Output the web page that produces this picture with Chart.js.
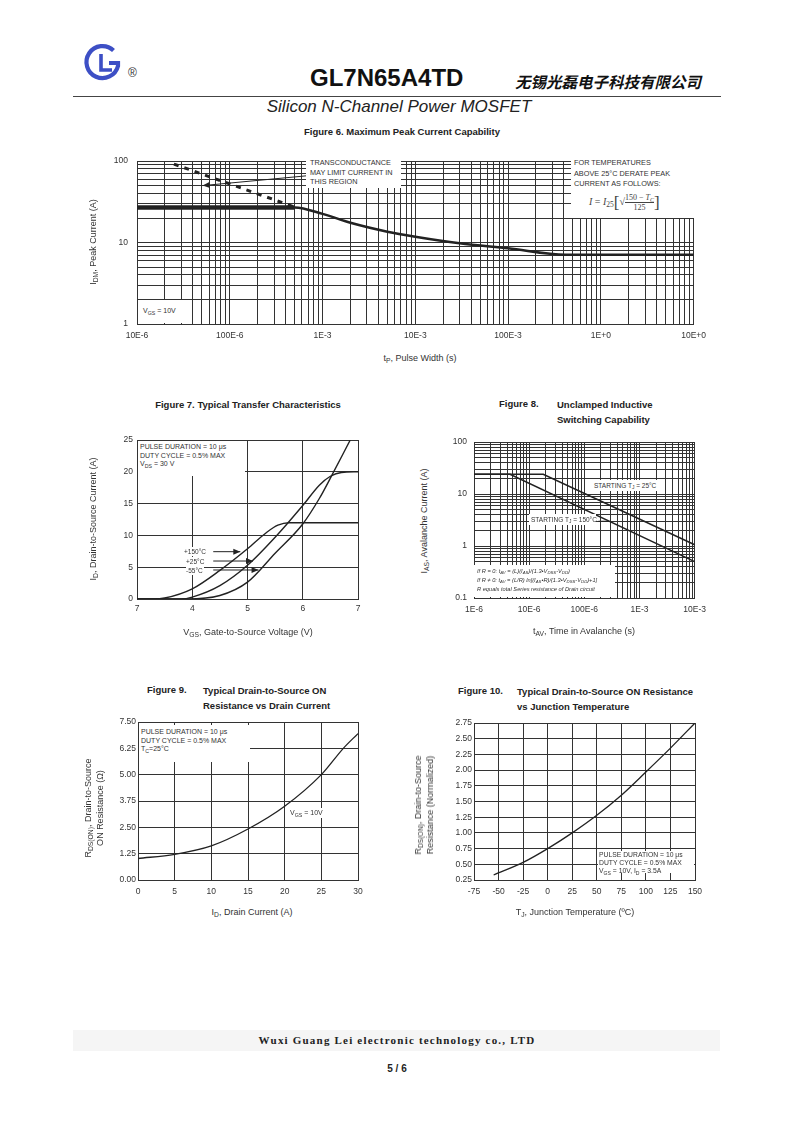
<!DOCTYPE html>
<html>
<head>
<meta charset="utf-8">
<script src="https://cdn.jsdelivr.net/npm/chart.js@4.4.0/dist/chart.umd.min.js"></script>
<style>
body{margin:0;background:#fff;}
#page{position:relative;width:793px;height:1122px;overflow:hidden;font-family:"Liberation Sans",Arial,sans-serif;color:#222;}
.a{position:absolute;white-space:nowrap;}
.ct{transform:translate(-50%,-50%);}
.yt{position:absolute;white-space:nowrap;transform:translate(-50%,-50%) rotate(-90deg);text-align:center;font-size:9px;line-height:12px;color:#333;}
.xt{font-size:9px;color:#333;}
.ft{font-weight:bold;font-size:9.5px;color:#222;}
.mask{position:absolute;background:#fff;white-space:nowrap;color:#333;}
canvas{position:absolute;}
sub{font-size:75%;vertical-align:-0.3em;line-height:0;}
.frac{display:inline-block;vertical-align:middle;text-align:center;font-size:8px;line-height:9px;}
.frac span{display:block;}
</style>
</head>
<body>
<div id="page">
  <!-- header -->
  <svg class="a" style="left:0;top:0" width="160" height="100">
    <path d="M113.5 50.5 A16 16 0 1 0 118 66 L118 63 L109 63" fill="none" stroke="#3d4fc5" stroke-width="4.2"/>
    <path d="M101 54 L101 70 L112 70" fill="none" stroke="#3d4fc5" stroke-width="3.6"/>
  </svg>
  <div class="a" style="left:128px;top:66px;font-size:12px;color:#333">®</div>
  <div class="a" style="left:310px;top:64px;font-size:24px;font-weight:bold;color:#111">GL7N65A4TD</div>
  <div class="a" style="left:515px;top:70px;font-size:15.5px;font-weight:bold;font-style:italic;font-family:'Noto Sans CJK SC';color:#111">无锡光磊电子科技有限公司</div>
  <div class="a" style="left:73px;top:96px;width:648px;height:1px;background:#444"></div>
  <div class="a ct" style="left:399px;top:107px;font-size:17px;font-style:italic;color:#222">Silicon N-Channel Power MOSFET</div>

  <!-- figure titles -->
  <div class="a ct ft" style="left:402px;top:131px">Figure 6. Maximum Peak Current Capability</div>
  <div class="a ct ft" style="left:248px;top:404px">Figure 7. Typical Transfer Characteristics</div>
  <div class="a ft" style="left:499px;top:398px">Figure 8.</div>
  <div class="a ft" style="left:557px;top:398px;line-height:14.5px">Unclamped Inductive<br>Switching Capability</div>
  <div class="a ft" style="left:147px;top:684px">Figure 9.</div>
  <div class="a ft" style="left:203px;top:684px;line-height:14.5px">Typical Drain-to-Source ON<br>Resistance vs Drain Current</div>
  <div class="a ft" style="left:458px;top:685px">Figure 10.</div>
  <div class="a ft" style="left:517px;top:685px;line-height:14.5px">Typical Drain-to-Source ON Resistance<br>vs Junction Temperature</div>

  <canvas id="c6"></canvas>
  <canvas id="c7"></canvas>
  <canvas id="c8"></canvas>
  <canvas id="c9"></canvas>
  <canvas id="c10"></canvas>

  <!-- figure 6 notes -->
  <div class="mask" style="left:306px;top:158px;width:95px;height:30px;font-size:7.3px;line-height:9.5px;padding-left:4px;box-sizing:border-box">TRANSCONDUCTANCE<br>MAY LIMIT CURRENT IN<br>THIS REGION</div>
  <div class="mask" style="left:571px;top:158px;width:123px;height:60px;font-size:7.3px;line-height:10.5px;padding-left:3px;box-sizing:border-box">FOR TEMPERATURES<br>ABOVE 25°C DERATE PEAK<br>CURRENT AS FOLLOWS:
    <div style="position:absolute;left:18px;top:35px;font-family:'Liberation Serif';font-size:10px;color:#444;line-height:18px"><i>I</i> = <i>I</i><sub>25</sub><span style="font-size:17px;vertical-align:middle">[</span>√<span class="frac"><span style="border-bottom:1px solid #444">150 − <i>T<sub>C</sub></i></span><span>125</span></span><span style="font-size:17px;vertical-align:middle">]</span></div>
  </div>
  <div class="mask" style="left:138px;top:300px;width:52px;height:23px;font-size:7px;line-height:22px;padding-left:5px;box-sizing:border-box">V<sub>GS</sub> = 10V</div>

  <!-- figure 7 notes -->
  <div class="mask" style="left:138px;top:441px;width:107px;height:35px;font-size:7px;line-height:8.6px;padding:2px 0 0 2px;box-sizing:border-box">PULSE DURATION = 10 μs<br>DUTY CYCLE = 0.5% MAX<br>V<sub>DS</sub> = 30 V</div>
  <div class="mask" style="left:184px;top:547px;font-size:6.5px;line-height:9px;padding-right:1px">+150°C</div>
  <div class="mask" style="left:186px;top:556.5px;font-size:6.5px;line-height:9px;padding-right:1px">+25°C</div>
  <div class="mask" style="left:186px;top:565.5px;font-size:6.5px;line-height:9px;padding-right:1px">-55°C</div>

  <!-- figure 8 notes -->
  <div class="mask" style="left:592px;top:480px;width:66px;height:11px;font-size:6.5px;line-height:11px;padding-left:2px;box-sizing:border-box">STARTING T<sub>J</sub> = 25°C</div>
  <div class="mask" style="left:529px;top:514px;width:67px;height:11px;font-size:6.5px;line-height:11px;padding-left:2px;box-sizing:border-box">STARTING T<sub>J</sub> = 150°C</div>
  <div class="mask" style="left:474px;top:565px;width:141px;height:32px;font-size:5.7px;line-height:8.8px;font-style:italic;padding:2px 0 0 3px;box-sizing:border-box">If R = 0: t<sub>AV</sub> = (L)(I<sub>AS</sub>)/(1.3•V<sub>DSS</sub>-V<sub>DD</sub>)<br>If R ≠ 0: t<sub>AV</sub> = (L/R) ln[(I<sub>AS</sub>•R)/(1.3•V<sub>DSS</sub>-V<sub>DD</sub>)+1]<br>R equals total Series resistance of Drain circuit</div>

  <!-- figure 9 notes -->
  <div class="mask" style="left:139px;top:725px;width:111px;height:37px;font-size:7px;line-height:8.7px;padding:3px 0 0 2px;box-sizing:border-box">PULSE DURATION = 10 μs<br>DUTY CYCLE = 0.5% MAX<br>T<sub>C</sub>=25°C</div>
  <div class="mask" style="left:290px;top:808px;font-size:7px;line-height:10px">V<sub>GS</sub> = 10V</div>

  <!-- figure 10 notes -->
  <div class="mask" style="left:598px;top:851px;width:96px;height:22px;font-size:6.8px;line-height:7.8px;padding:0 0 0 1px;box-sizing:border-box">PULSE DURATION = 10 μs<br>DUTY CYCLE = 0.5% MAX<br>V<sub>GS</sub> = 10V, I<sub>D</sub> = 3.5A</div>

  <!-- axis titles -->
  <div class="a ct xt" style="left:420px;top:358px">t<sub>P</sub>, Pulse Width (s)</div>
  <div class="yt" style="left:93px;top:242px">I<sub>DM</sub>, Peak Current (A)</div>
  <div class="a ct xt" style="left:248px;top:632px">V<sub>GS</sub>, Gate-to-Source Voltage (V)</div>
  <div class="yt" style="left:93px;top:519px">I<sub>D</sub>, Drain-to-Source Current (A)</div>
  <div class="a ct xt" style="left:584px;top:631px">t<sub>AV</sub>, Time in Avalanche (s)</div>
  <div class="yt" style="left:424px;top:521px">I<sub>AS</sub>, Avalanche Current (A)</div>
  <div class="a ct xt" style="left:252px;top:912px">I<sub>D</sub>, Drain Current (A)</div>
  <div class="yt" style="left:94px;top:808px">R<sub>DS(ON)</sub>, Drain-to-Source<br>ON Resistance (Ω)</div>
  <div class="a ct xt" style="left:575px;top:912px">T<sub>J</sub>, Junction Temperature (ºC)</div>
  <div class="yt" style="left:424px;top:805px">R<sub>DS(ON)</sub>, Drain-to-Source<br>Resistance (Normalized)</div>

  <!-- footer -->
  <div class="a" style="left:73px;top:1030px;width:647px;height:21px;background:#f5f5f5"></div>
  <div class="a ct" style="left:397px;top:1040px;font-family:'Liberation Serif';font-weight:bold;font-size:11px;letter-spacing:1.2px;color:#222">Wuxi Guang Lei electronic technology co., LTD</div>
  <div class="a ct" style="left:397px;top:1068px;font-weight:bold;font-size:10px;color:#222">5 / 6</div>
</div>

<script>
// Figure 6: max peak current vs pulse width
const fig6Pulse = [1e-5, 5e-4, 1e-3, 2e-3, 5e-3, 1e-2, 3e-2, 1e-1, 4.2e-1, 10];
const fig6Current = [27, 27, 22.5, 17.5, 13.6, 11.8, 9.8, 8.5, 7.1, 7.1];
const fig6LimitPulse = [2.5e-5, 4.9e-4];
const fig6LimitCurrent = [92, 27.5];
const fig6XLabels = ['10E-6', '100E-6', '1E-3', '10E-3', '100E-3', '1E+0', '10E+0'];
const fig6YLabels = ['1', '10', '100'];

// Figure 7: transfer characteristics
const fig7Vgs150 = [3, 3.3, 3.5, 4, 4.5, 5, 5.35, 5.55, 5.75, 7];
const fig7Id150 = [0, 0, 0.15, 1.6, 4.5, 7.9, 10.5, 11.6, 12, 12];
const fig7Vgs25 = [3, 3.8, 4, 4.5, 5, 5.5, 6, 6.3, 6.5, 6.7, 7];
const fig7Id25 = [0, 0, 0.3, 2.1, 5.3, 9.7, 14.7, 17.9, 19.3, 19.9, 20];
const fig7VgsM55 = [3, 3.9, 4.5, 5, 5.5, 6, 6.3, 6.5, 6.86];
const fig7IdM55 = [0, 0, 0.55, 2.65, 7.2, 11.8, 15.8, 19.0, 25];
const fig7XLabels = ['7', '4', '5', '6', '7'];

// Figure 8: unclamped inductive switching
const fig8Time25 = [1e-6, 1.8e-5, 1e-2];
const fig8Amp25 = [24, 24, 1.06];
const fig8Time150 = [1e-6, 4.5e-6, 1e-2];
const fig8Amp150 = [24, 24, 0.5];
const fig8XLabels = ['1E-6', '10E-6', '100E-6', '1E-3', '10E-3'];
const fig8YLabels = ['0.1', '1', '10', '100'];

// Figure 9: Rds(on) vs drain current
const fig9Id = [0, 5, 10, 15, 20, 25, 28, 30];
const fig9Rds = [1.02, 1.22, 1.62, 2.42, 3.5, 5.0, 6.25, 6.95];

// Figure 10: normalized Rds(on) vs junction temperature
const fig10Tj = [-55, -25, 0, 25, 50, 75, 100, 125, 150];
const fig10Rds = [0.33, 0.53, 0.75, 1.0, 1.28, 1.6, 1.97, 2.35, 2.75];

const INK = '#222';
const GRID = '#333';
const M = {l: 40, r: 18, t: 10, b: 26};
const tickFont = {family: 'Liberation Sans', size: 8.5};

function pts(xs, ys) {
	return xs.map((x, i) => ({x: x, y: ys[i]}));
}

function mount(id, area) {
	const c = document.getElementById(id);
	const w = area.r - area.l + M.l + M.r;
	const h = area.b - area.t + M.t + M.b;
	c.width = w;
	c.height = h;
	c.style.width = w + 'px';
	c.style.height = h + 'px';
	c.style.left = (area.l - M.l) + 'px';
	c.style.top = (area.t - M.t) + 'px';
	return c;
}

function logTicks(minExp, maxExp) {
	const t = [];
	for (let e = minExp; e < maxExp; e++) {
		for (let m = 1; m < 10; m++) t.push({value: m * Math.pow(10, e)});
	}
	t.push({value: Math.pow(10, maxExp)});
	return t;
}

function decadeLabel(labels, minExp) {
	return (v) => {
		const lg = Math.log10(v);
		const e = Math.round(lg);
		return Math.abs(lg - e) < 1e-6 ? labels[e - minExp] : '';
	};
}

function line(data, width, extra) {
	return Object.assign({
		data: data,
		borderColor: INK,
		borderWidth: width,
		pointRadius: 0,
		fill: false,
	}, extra || {});
}

function axis(kind, opts, pad) {
	const horiz = kind === 'x';
	return Object.assign({
		grid: {color: GRID, lineWidth: 1, drawTicks: false},
		border: {color: GRID, width: 1},
		ticks: Object.assign({font: tickFont, color: '#333', padding: pad, autoSkip: false, maxRotation: 0}, opts.ticks || {}),
		afterFit: (s) => { if (horiz) s.height = M.b; else s.width = M.l; },
	}, opts.scale);
}

// arrows and leader lines drawn in data coordinates
const arrowPlugin = {
	id: 'arrows',
	afterDatasetsDraw(chart, args, opts) {
		const ctx = chart.ctx;
		const xs = chart.scales.x, ys = chart.scales.y;
		(opts.items || []).forEach((a) => {
			const x1 = xs.getPixelForValue(a.from[0]), y1 = ys.getPixelForValue(a.from[1]);
			const x2 = xs.getPixelForValue(a.to[0]), y2 = ys.getPixelForValue(a.to[1]);
			ctx.save();
			ctx.strokeStyle = INK;
			ctx.fillStyle = INK;
			ctx.lineWidth = 1;
			ctx.beginPath();
			ctx.moveTo(x1, y1);
			ctx.lineTo(x2, y2);
			ctx.stroke();
			if (a.head) {
				const ang = Math.atan2(y2 - y1, x2 - x1);
				const L = 7, W = 3;
				ctx.beginPath();
				ctx.moveTo(x2, y2);
				ctx.lineTo(x2 - L * Math.cos(ang) + W * Math.sin(ang), y2 - L * Math.sin(ang) - W * Math.cos(ang));
				ctx.lineTo(x2 - L * Math.cos(ang) - W * Math.sin(ang), y2 - L * Math.sin(ang) + W * Math.cos(ang));
				ctx.closePath();
				ctx.fill();
			}
			ctx.restore();
		});
	},
};

function make(id, area, datasets, xAxis, yAxis, arrows) {
	return new Chart(mount(id, area), {
		type: 'line',
		data: {datasets: datasets},
		plugins: [arrowPlugin],
		options: {
			responsive: false,
			animation: false,
			layout: {padding: {top: M.t, right: M.r, left: 0, bottom: 0}},
			plugins: {legend: {display: false}, tooltip: {enabled: false}, arrows: {items: arrows || []}},
			scales: {x: xAxis, y: yAxis},
		},
	});
}

// Figure 6
make('c6', {l: 137, r: 695, t: 157, b: 324}, [
	line(pts(fig6Pulse, fig6Current), 2.5, {cubicInterpolationMode: 'monotone'}),
	line(pts(fig6Pulse.slice(0, 2), fig6Current.slice(0, 2)), 4.5),
	line(pts(fig6LimitPulse, fig6LimitCurrent), 3, {borderDash: [5, 6]}),
],
axis('x', {scale: {type: 'logarithmic', min: 1e-5, max: 10, afterBuildTicks: (s) => { s.ticks = logTicks(-5, 1); }},
	ticks: {callback: decadeLabel(fig6XLabels, -5)}}, 7),
axis('y', {scale: {type: 'logarithmic', min: 1, max: 100, afterBuildTicks: (s) => { s.ticks = logTicks(0, 2); }},
	ticks: {callback: decadeLabel(fig6YLabels, 0)}}, 9),
[{from: [7.25e-4, 66.5], to: [5.1e-5, 50], head: true}]);

// Figure 7
make('c7', {l: 137, r: 358, t: 440, b: 599}, [
	line(pts(fig7Vgs150, fig7Id150), 1.4, {cubicInterpolationMode: 'monotone'}),
	line(pts(fig7Vgs25, fig7Id25), 1.4, {cubicInterpolationMode: 'monotone'}),
	line(pts(fig7VgsM55, fig7IdM55), 1.4, {cubicInterpolationMode: 'monotone'}),
],
axis('x', {scale: {type: 'linear', min: 3, max: 7}, ticks: {stepSize: 1, callback: (v, i) => fig7XLabels[i]}}, 5),
axis('y', {scale: {type: 'linear', min: 0, max: 25}, ticks: {stepSize: 5}}, 4),
[
	{from: [4.38, 7.44], to: [4.87, 7.44], head: true},
	{from: [4.38, 5.97], to: [5.1, 5.97], head: true},
	{from: [4.38, 4.56], to: [5.2, 4.56], head: true},
]);

// Figure 8
make('c8', {l: 474, r: 695, t: 440, b: 598}, [
	line(pts(fig8Time25, fig8Amp25), 1.5),
	line(pts(fig8Time150, fig8Amp150), 1.5),
],
axis('x', {scale: {type: 'logarithmic', min: 1e-6, max: 1e-2, afterBuildTicks: (s) => { s.ticks = logTicks(-6, -2); }},
	ticks: {callback: decadeLabel(fig8XLabels, -6)}}, 7),
axis('y', {scale: {type: 'logarithmic', min: 0.1, max: 100, afterBuildTicks: (s) => { s.ticks = logTicks(-1, 2); }},
	ticks: {callback: decadeLabel(fig8YLabels, -1)}}, 7),
[{from: [1.8e-4, 3.0], to: [2.8e-4, 3.0], head: false}]);

// Figure 9
make('c9', {l: 138, r: 358, t: 722, b: 880}, [
	line(pts(fig9Id, fig9Rds), 1.3, {cubicInterpolationMode: 'monotone'}),
],
axis('x', {scale: {type: 'linear', min: 0, max: 30}, ticks: {stepSize: 5}}, 7),
axis('y', {scale: {type: 'linear', min: 0, max: 7.5}, ticks: {stepSize: 1.25, callback: (v) => v.toFixed(2)}}, 2));

// Figure 10
make('c10', {l: 474, r: 695, t: 723, b: 880}, [
	line(pts(fig10Tj, fig10Rds), 1.3, {cubicInterpolationMode: 'monotone'}),
],
axis('x', {scale: {type: 'linear', min: -75, max: 150}, ticks: {stepSize: 25}}, 7),
axis('y', {scale: {type: 'linear', min: 0.25, max: 2.75}, ticks: {stepSize: 0.25, callback: (v) => v.toFixed(2)}}, 2));
</script>
</body>
</html>
